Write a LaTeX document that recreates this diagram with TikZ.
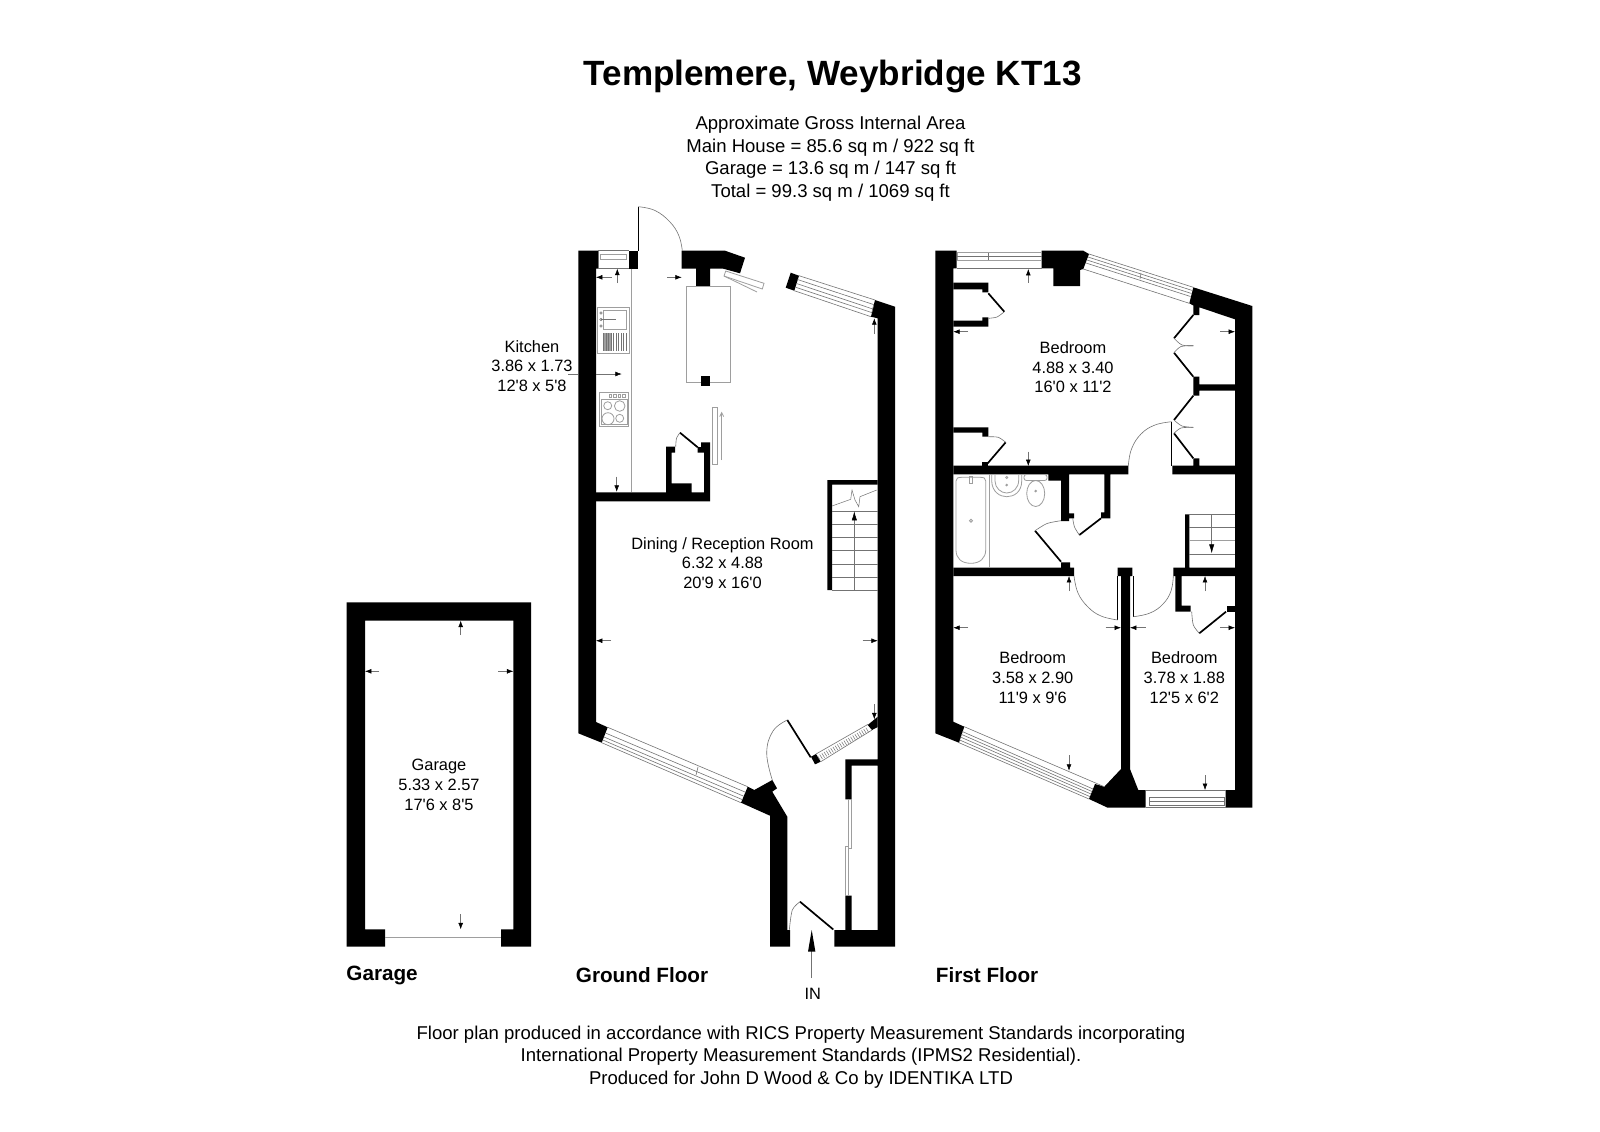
\documentclass[tikz,border=0pt]{standalone}
\usepackage{fontspec}
\setmainfont{Liberation Sans}[Ligatures=TeXOff]
\usetikzlibrary{arrows.meta}
\definecolor{gl}{gray}{0.62}
\definecolor{gm}{gray}{0.45}
\tikzset{
  wall/.style={fill=black,draw=none},
  glass/.style={draw=gm,line width=0.3pt},
  fixture/.style={draw=gl,line width=0.4pt},
  leaf/.style={draw=black,line width=0.85pt},
  swing/.style={draw=gm,line width=0.3pt},
  dim/.style={draw=gm,line width=0.25pt},
  head/.style={-{Latex[black,length=3.2pt,width=2.4pt]},draw=gm,line width=0.25pt},
  room/.style={font=\fontsize{8.2}{9.85}\selectfont,align=center,inner sep=0pt},
  info/.style={font=\fontsize{9.27}{11.25}\selectfont,align=center,inner sep=0pt},
  floor/.style={font=\fontsize{10.35}{13}\selectfont\bfseries,anchor=west,inner sep=0pt},
}
\newcommand{\dimarrow}[2]{\draw[head] (#1) -- (#2);}
\begin{document}
\begin{tikzpicture}[x=0.5pt,y=-0.5pt]
\useasboundingbox (0,0) rectangle (1600,1131);
\fill[white] (0,0) rectangle (1600,1131);

% ---------- Garage
\fill[wall] (346.7,602.3) -- (531,602.3) -- (531,946.7) -- (501,946.7) -- (501,929.3) -- (513.3,929.3) -- (513.3,620.7) -- (365,620.7) -- (365,929.3) -- (385,929.3) -- (385,946.7) -- (346.7,946.7) -- cycle;
\draw[fixture,line width=0.6pt] (385,937.7) -- (501,937.7);
\dimarrow{460.7,635}{460.7,620.7}
\dimarrow{379,671.3}{365,671.3}
\dimarrow{498,671.3}{513.3,671.3}
\dimarrow{460.7,914}{460.7,929.3}
\node[room] (garage) at (439,785) {Garage\\5.33 x 2.57\\17'6 x 8'5};
\node[floor] (garagelabel) at (346,975) {Garage};

% ---------- Ground floor walls
\fill[wall] (578.3,250.7) -- (598,250.7) -- (598,268.7) -- (596,268.7) -- (596,722) -- (607.7,727.3) -- (601.7,742.7) -- (578.3,733.3) -- cycle;
\fill[wall] (629,250.7) -- (638.3,250.7) -- (638.3,268.7) -- (629,268.7) -- cycle;
\fill[wall] (681.7,250.7) -- (725,250.7) -- (745,257.7) -- (740,273.3) -- (723.3,268.7) -- (710,268.7) -- (710,286) -- (696,286) -- (696,268.7) -- (681.7,268.7) -- cycle;
\fill[wall] (790.7,272.7) -- (799,275.7) -- (794.3,290.7) -- (785.7,287.7) -- cycle;
\fill[wall] (875,300) -- (895,306.7) -- (895,946.7) -- (834.3,946.7) -- (834.3,930) -- (845.3,930) -- (845.3,895.7) -- (851.7,895.7) -- (851.7,930) -- (877.7,930) -- (877.7,765.7) -- (851.7,765.7) -- (851.7,799.3) -- (845.3,799.3) -- (845.3,759.3) -- (877.7,759.3) -- (877.7,318.3) -- (871,316.7) -- cycle;
\fill[wall] (867.7,725) -- (877.7,716.7) -- (877.7,727) -- (872,730) -- cycle;
\fill[wall] (811,756.7) -- (816,754) -- (820.7,761.7) -- (815,764.3) -- cycle;
\fill[wall] (747.7,786.7) -- (754.3,790) -- (772.3,780) -- (777,788.3) -- (772.3,791.7) -- (787.3,816.7) -- (787.3,930) -- (790,930) -- (790,946.7) -- (770,946.7) -- (770,815.7) -- (741,802.7) -- cycle;
% kitchen partition
\fill[wall] (596,492.3) -- (666,492.3) -- (666,446.7) -- (675,446.7) -- (675,452.7) -- (671.7,452.7) -- (671.7,483.3) -- (691.7,483.3) -- (691.7,492.3) -- (704,492.3) -- (704,452.7) -- (697.7,452.7) -- (697.7,447) -- (701,447) -- (701,442.3) -- (710,442.3) -- (710,501.3) -- (596,501.3) -- cycle;
% island
\draw[fixture] (686,286.7) rectangle (730.7,382.7);
\fill[wall] (701.3,375.7) rectangle (710,385.7);
\draw[fixture] (712.7,407.3) rectangle (717.3,464.3);
\draw[fixture,-{Straight Barb[length=2pt,width=2pt]}] (721.7,460) -- (721.7,411.7);
% sliding panel at top of kitchen
\draw[fixture] (725.7,271) -- (764,283.3) -- (762.3,289) -- (724,276) -- cycle;
\draw[fixture] (724,276) -- (757,292);
% worktop line
\draw[fixture] (631.7,268.7) -- (631.7,492.3);
% sink
\draw[fixture] (597.7,307.3) rectangle (629.3,353.3);
\draw[fixture] (603.3,310.3) rectangle (626.7,329.3);
\fill[gl] (604,333.3) rectangle (612,351);
\foreach \xx in {603.5,606,608.5,611,613.5,616,618.5,621,623.5,626}{\draw[gm,line width=0.35pt] (\xx,333.3) -- (\xx,351);}
\draw[gm,line width=0.3pt] (601,319.5) -- (615,319.5);
\foreach \yy in {313,319.5,326}{\draw[gm,line width=0.3pt] (601,\yy) circle[radius=1.3];}
\fill[gm] (614,318.7) rectangle (616,320.3);
% hob
\draw[fixture] (599.3,392) rectangle (628.3,426);
\draw[fixture] (601,399.3) rectangle (627,424);
\foreach \xx in {610.5,615,619.5,624}{\draw[fixture] (\xx-1.3,394.5) rectangle (\xx+1.3,397);}
\draw[fixture] (607.7,405.7) circle[radius=4];
\draw[fixture] (619.7,406) circle[radius=5.3];
\draw[fixture] (608,418.7) circle[radius=6];
\draw[fixture] (619.7,418.3) circle[radius=4];
% ground windows
\draw[glass] (598,250.7) -- (629,250.7) (598,268.7) -- (629,268.7) (598,250.7) -- (598,268.7);
\draw[fixture] (600.7,254.3) rectangle (626.7,259.3);
\draw[glass] (799,275.7) -- (875,300) (794.3,290.7) -- (871,316.7);
\draw[glass] (797.5,279.5) -- (873.7,304.6) (796.5,283.5) -- (872.8,309) (795.5,287.2) -- (871.8,312.6);
\draw[glass] (873.7,304.6) -- (871.8,312.6);
\draw[glass] (607.7,727.3) -- (747.7,786.7) (601.7,742.7) -- (741,802.7);
\draw[glass] (605.5,733) -- (745.5,792.2) (604,737) -- (744,796.3) (602.8,740) -- (742.5,799.7);
\draw[glass] (696,775) -- (698,767);
% hall window
\draw[glass] (816,754) -- (868,724.3) (820.7,761.7) -- (872,730);
\foreach \i in {0,...,22}{\draw[gm,line width=0.25pt] ({817.5+\i*2.2},{755.8-\i*1.27}) -- ({820.2+\i*2.2},{760.2-\i*1.27});}
% ground doors
\draw[leaf,line width=0.7pt] (638.3,206.7) -- (638.3,250.7);
\draw[swing] plot[smooth,tension=0.7] coordinates {(638.3,206.7) (655,210.5) (670,222) (679,236) (682.3,250.7)};
\draw[leaf] (680,432.7) -- (697.7,447.3);
\draw[swing] plot[smooth] coordinates {(680,432.7) (676.5,438.3) (675.7,446.7)};
\draw[leaf] (810.7,757.3) -- (787.3,720);
\draw[swing] plot[smooth,tension=0.7] coordinates {(787.3,720) (773,731) (766.7,753) (772.3,780)};
\draw[leaf] (833.3,929.5) -- (800,901.7);
\draw[swing] plot[smooth] coordinates {(800,901.7) (792.3,910) (789.3,930)};
% cupboard sliding doors in hall
\draw[fixture] (848.3,799.3) rectangle (851.3,848.3);
\draw[fixture] (845.7,846) rectangle (848.5,895.7);
% stairs ground
\fill[wall] (827.3,480) -- (877.7,480) -- (877.7,484.7) -- (832,484.7) -- (832,590) -- (827.3,590) -- cycle;
\foreach \yy in {511.3,524.3,537.3,550.3,564.3,577.3,590}{\draw[gm,line width=0.25pt] (832,\yy) -- (877.7,\yy);}
\draw[gm,line width=0.25pt] (854.3,590) -- (854.3,520);
\draw[head,-{Latex[black,length=4.5pt,width=2.6pt]}] (854.3,525) -- (854.3,511.3);
\draw[gm,line width=0.25pt] (832,506) -- (850.7,499.3) -- (852,490) -- (855,500) -- (858.7,506.7) -- (860,496.7) -- (876.7,490);
% ground dims
\dimarrow{611.7,277.3}{596,277.3}
\dimarrow{617.3,283}{617.3,268.7}
\dimarrow{667,277.3}{681.7,277.3}
\dimarrow{616.7,476.7}{616.7,491.7}
\dimarrow{874.3,334}{874.3,318.3}
\dimarrow{611,640.7}{596,640.7}
\dimarrow{862.7,640.7}{877.7,640.7}
\dimarrow{874.3,704}{874.3,719.3}
\dimarrow{596,374}{621.7,374}
\coordinate (kitchenend) at (578.3,374);
\coordinate (kitchenstart) at (568,374);
\draw[dim] (kitchenstart) -- (kitchenend);
% IN arrow
\draw[gm,line width=0.3pt] (811.7,978) -- (811.7,950);
\fill[black] (811.7,930) -- (815.4,951.7) -- (808,951.7) -- cycle;

% ---------- First floor walls
\fill[wall] (935.3,250.7) -- (956.7,250.7) -- (956.7,268.3) -- (953.3,268.3) -- (953.3,721.7) -- (964.3,726.7) -- (959,742.7) -- (935.3,733.3) -- cycle;
\fill[wall] (1041.7,250.7) -- (1083.3,250.7) -- (1089,254) -- (1083.3,269) -- (1080,270) -- (1080,286) -- (1053.3,286) -- (1053.3,268.3) -- (1041.7,268.3) -- cycle;
\fill[wall] (1193.3,287.3) -- (1252.3,306) -- (1252.3,807.7) -- (1225.7,807.7) -- (1225.7,790) -- (1235,790) -- (1235,319.3) -- (1199.3,307.3) -- (1199.3,315) -- (1193.3,315) -- (1193.3,305.5) -- (1189.3,303.3) -- cycle;
\fill[wall] (953.3,282.7) -- (988.3,282.7) -- (988.3,292.3) -- (982.3,292.3) -- (982.3,289.3) -- (953.3,289.3) -- cycle;
\fill[wall] (953.3,326.7) -- (988.3,326.7) -- (988.3,317.3) -- (982.3,317.3) -- (982.3,320.7) -- (953.3,320.7) -- cycle;
\fill[wall] (953.3,427.3) -- (988.3,427.3) -- (988.3,436.7) -- (982.3,436.7) -- (982.3,432.7) -- (953.3,432.7) -- cycle;
\fill[wall] (982.3,462.3) rectangle (988.3,466);
% horizontal wall above bathroom
\fill[wall] (953.3,465.7) -- (1128.3,465.7) -- (1128.3,474.3) -- (1110.3,474.3) -- (1110.3,518.3) -- (1101,518.3) -- (1101,512.3) -- (1104.3,512.3) -- (1104.3,474.3) -- (1069,474.3) -- (1069,513.3) -- (1074,513.3) -- (1074,518.3) -- (1069,518.3) -- (1069,521) -- (1061,521) -- (1061,480.7) -- (1048.3,480.7) -- (1048.3,474.3) -- (953.3,474.3) -- cycle;
\fill[wall] (1172.3,465.7) -- (1193.3,465.7) -- (1193.3,458.3) -- (1199.3,458.3) -- (1199.3,465.7) -- (1235,465.7) -- (1235,474.3) -- (1172.3,474.3) -- cycle;
% wardrobe divider
\fill[wall] (1193.3,376.7) -- (1199.3,376.7) -- (1199.3,384.3) -- (1235,384.3) -- (1235,390.7) -- (1199.3,390.7) -- (1199.3,395.7) -- (1193.3,395.7) -- cycle;
% wall below bathroom
\fill[wall] (953.3,567.7) -- (1061,567.7) -- (1061,562.3) -- (1070,562.3) -- (1070,567.7) -- (1074,567.7) -- (1074,576) -- (953.3,576) -- cycle;
% centre wall
\fill[wall] (1117.7,567.7) -- (1132.3,567.7) -- (1132.3,576) -- (1130,576) -- (1130,769) -- (1138.3,790) -- (1145.7,790) -- (1145.7,807.7) -- (1107.7,807.7) -- (1089,799) -- (1095,784) -- (1104.3,786.7) -- (1121,769) -- (1121,576) -- (1117.7,576) -- cycle;
% right hall walls
\fill[wall] (1173.3,567.7) -- (1185,567.7) -- (1185,514.3) -- (1189.3,514.3) -- (1189.3,567.7) -- (1235,567.7) -- (1235,576) -- (1181.7,576) -- (1181.7,605.7) -- (1190.7,605.7) -- (1190.7,611.7) -- (1175.3,611.7) -- (1175.3,576) -- (1173.3,576) -- cycle;
\fill[wall] (1226.7,605.7) rectangle (1235,611.7);
% first-floor windows
\draw[glass] (956.7,268.3) -- (1041.7,268.3);
\draw[fixture] (957,252.7) rectangle (1041.7,260);
\draw[glass] (957,256) -- (1041.7,256) (988,252.7) -- (988,260);
\draw[glass] (1089,254) -- (1193.3,287.3) (1083.3,269) -- (1189.3,303.3);
\draw[glass] (1088,257) -- (1192.3,290.5) (1087,260) -- (1191.5,293.5) (1086,263) -- (1190.5,296.5);
\draw[glass] (1141,273) -- (1140,279);
\draw[glass] (964.3,726.7) -- (1104.3,786.7) (959,742.7) -- (1089,799);
\draw[glass] (962.3,731.5) -- (1093,789) (961.3,734.3) -- (1092,791.5) (960.4,737) -- (1091,794) (959.7,740) -- (1090,796.6);
\draw[glass] (1145.7,790) -- (1225.7,790) (1145.7,807.7) -- (1225.7,807.7);
\draw[glass] (1149,797) rectangle (1224,805.7);
\draw[glass] (1149,801) -- (1224,801);
% bath and sanitary ware
\draw[fixture] (956,481) .. controls (956,478) and (958,477.3) .. (962,477.3) -- (980,477.3) .. controls (984,477.3) and (985.7,478) .. (985.7,481) -- (985.7,550) .. controls (985.7,558) and (980,563.3) .. (971,563.3) .. controls (961,563.3) and (956,558) .. (956,550) -- cycle;
\draw[fixture] (971,520.7) circle[radius=1.5];
\draw[fixture] (969.7,476) rectangle (972.3,483);
\draw[fixture] (989.3,474.3) -- (989.3,567.7);
\draw[fixture] (991.7,474.3) -- (991.7,481) .. controls (992,492) and (1000,496.7) .. (1006.7,496.7) .. controls (1014,496.7) and (1021.7,492) .. (1021.7,481) -- (1021.7,474.3);
\draw[fixture] (995,475) -- (995,481) .. controls (995,488) and (1001,493) .. (1006.7,493) .. controls (1013,493) and (1018.7,488) .. (1018.7,480) -- (1018.7,475);
\draw[fixture] (1006.7,485) circle[radius=0.9];
\draw[fixture] (1006.7,477.5) circle[radius=1.1];
\draw[fixture,rounded corners=1.2pt] (1024,474.5) rectangle (1047,480.5);
\draw[fixture] (1035.7,493.5) ellipse[x radius=9,y radius=13];
\draw[fixture] (1035.7,491) circle[radius=0.9];
% first-floor doors
\draw[leaf] (988.3,293.3) -- (1004.3,311.7);
\draw[swing] plot[smooth] coordinates {(1004.3,311.7) (997,317) (988.3,318.3)};
\draw[leaf] (987.7,463.3) -- (1005.7,442.3);
\draw[swing] plot[smooth] coordinates {(1005.7,442.3) (998.3,437.3) (988.3,436.7)};
\draw[leaf] (1193.3,315) -- (1174,338.3);
\draw[swing] plot[smooth] coordinates {(1174,338.3) (1182,345) (1193.3,345.7)};
\draw[leaf] (1193.3,376.7) -- (1174,352.7);
\draw[swing] plot[smooth] coordinates {(1174,352.7) (1181,346.5) (1193.3,345.7)};
\draw[leaf] (1193.3,395.7) -- (1174,420);
\draw[swing] plot[smooth] coordinates {(1174,420) (1182,426) (1193.3,427.3)};
\draw[leaf] (1193.3,458.3) -- (1174,433.3);
\draw[swing] plot[smooth] coordinates {(1174,433.3) (1181,428) (1193.3,427.3)};
\draw[leaf,line width=0.6pt] (1171.7,421.7) -- (1171.7,466);
\draw[swing] plot[smooth,tension=0.7] coordinates {(1171.7,421.7) (1155,425) (1141,434) (1131.5,449) (1128.3,466)};
\draw[leaf] (1079.3,535) -- (1101,518.3);
\draw[swing] plot[smooth] coordinates {(1079.3,535) (1074.5,527) (1072.7,518.3)};
\draw[leaf] (1061,561.7) -- (1035,530.7);
\draw[swing] plot[smooth] coordinates {(1035,530.7) (1047,523.5) (1061,520.7)};
\draw[leaf,line width=0.6pt] (1117.7,576) -- (1117.7,620);
\draw[swing] plot[smooth,tension=0.7] coordinates {(1074,576) (1078,593) (1088,607) (1101,616) (1117.7,620)};
\draw[leaf,line width=0.6pt] (1133.3,576) -- (1133.3,616.7);
\draw[swing] plot[smooth,tension=0.7] coordinates {(1133.3,616.7) (1150,613) (1163,604) (1171,591) (1173.3,576)};
\draw[leaf] (1226,611.7) -- (1199.3,633.3);
\draw[swing] plot[smooth] coordinates {(1199.3,633.3) (1193.3,625) (1191.7,611.7)};
% first-floor stairs
\foreach \yy in {514.3,527.3,554.3}{\draw[gm,line width=0.25pt] (1189.3,\yy) -- (1235,\yy);}
\draw[fixture] (1189.3,540.7) -- (1235,540.7);
\draw[gm,line width=0.25pt] (1211.7,514.3) -- (1211.7,540);
\draw[head,-{Latex[black,length=4.5pt,width=2.6pt]}] (1211.7,538) -- (1211.7,553.3);
% first-floor dims
\dimarrow{1028.3,282.7}{1028.3,269}
\dimarrow{1028.3,451.7}{1028.3,466}
\dimarrow{968,331.7}{953.3,331.7}
\dimarrow{1220,331.7}{1235,331.7}
\dimarrow{1069,591}{1069,576}
\dimarrow{1205,591}{1205,576}
\dimarrow{968,627.7}{953.3,627.7}
\dimarrow{1105.7,627.7}{1121,627.7}
\dimarrow{1145.7,627.7}{1130,627.7}
\dimarrow{1220,627.7}{1235,627.7}
\dimarrow{1069,755}{1069,770.7}
\dimarrow{1205,775}{1205,790}

% ---------- Text
\node[font=\fontsize{17.55}{22}\selectfont\bfseries,inner sep=0pt] (title) at (832.7,76.5) {Templemere, Weybridge KT13};
\node[info] (area) at (830.5,158.5) {Approximate Gross Internal Area\\Main House = 85.6 sq m / 922 sq ft\\Garage = 13.6 sq m / 147 sq ft\\Total = 99.3 sq m / 1069 sq ft};
\node[room] (kitchen) at (532,366) {Kitchen\\3.86 x 1.73\\12'8 x 5'8};
\node[room] (dining) at (722.5,563) {Dining / Reception Room\\6.32 x 4.88\\20'9 x 16'0};
\node[room] (bed1) at (1073,367.3) {Bedroom\\4.88 x 3.40\\16'0 x 11'2};
\node[room] (bed2) at (1032.7,677.7) {Bedroom\\3.58 x 2.90\\11'9 x 9'6};
\node[room] (bed3) at (1184.3,677.7) {Bedroom\\3.78 x 1.88\\12'5 x 6'2};
\node[room] (inlabel) at (812.7,994) {IN};
\node[floor] (groundlabel) at (575.5,975) {Ground Floor};
\node[floor] (firstlabel) at (935.5,975) {First Floor};
\node[info] (foot) at (801,1056.8) {Floor plan produced in accordance with RICS Property Measurement Standards incorporating\\International Property Measurement Standards (IPMS2 Residential).\\Produced for John D Wood \& Co by IDENTIKA LTD};
\end{tikzpicture}
\end{document}
